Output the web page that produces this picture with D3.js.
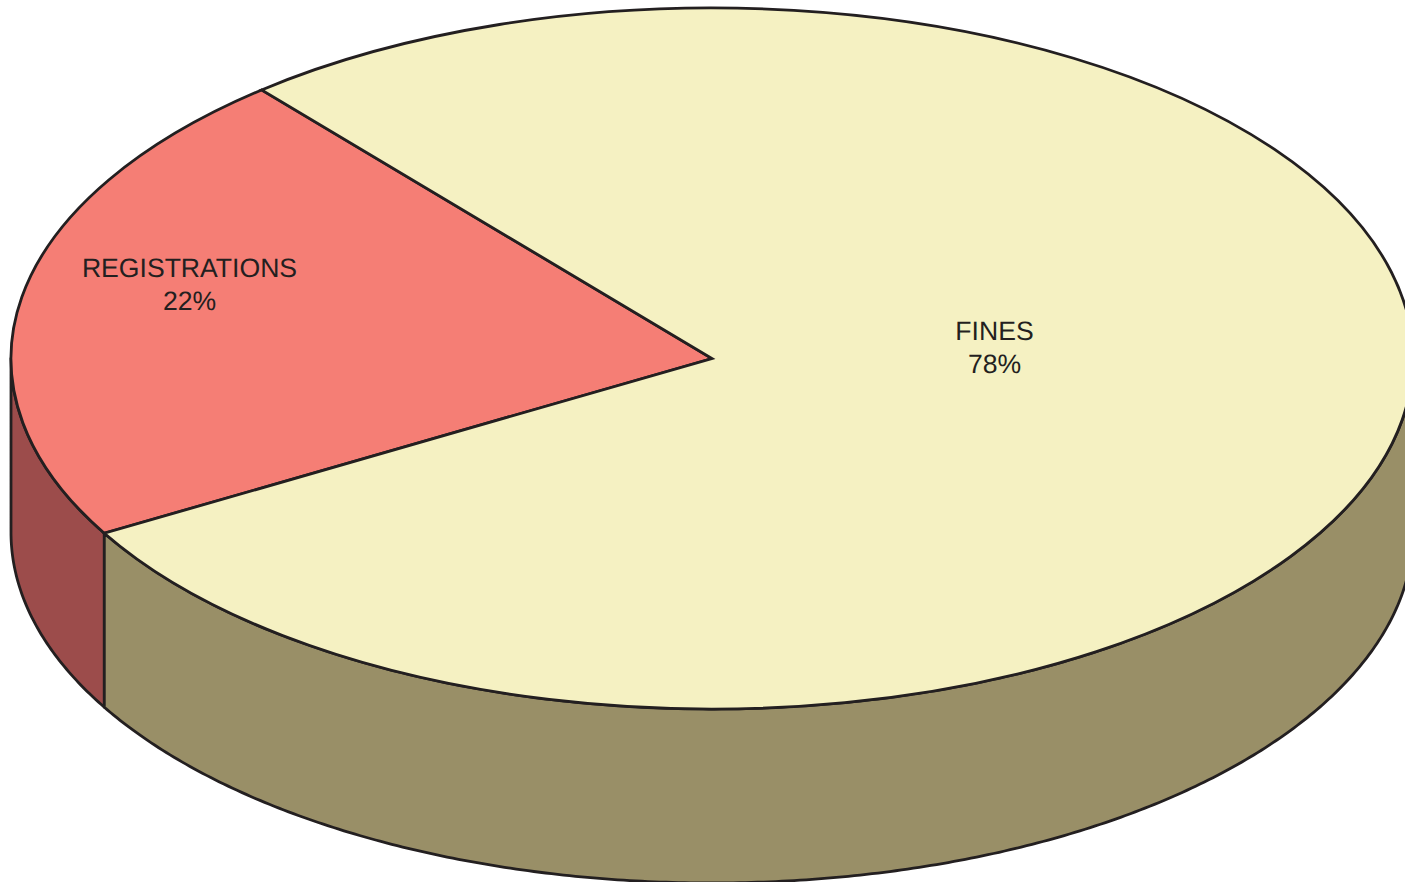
<!DOCTYPE html>
<html><head><meta charset="utf-8">
<script src="https://cdn.jsdelivr.net/npm/d3@7"></script>
<style>html,body{margin:0;padding:0;background:#fff;overflow:hidden}svg{display:block}</style>
</head><body><svg id="c" width="1405" height="882"></svg>
<script>
const categories = ["REGISTRATIONS", "FINES"];
const values = [22.2, 77.8];
const percentLabels = ["22%", "78%"];
const topColors = ["#f57e75", "#f5f1c2"];
const sideColors = ["#9c4c4b", "#998f67"];

const W = 1405, H = 882, cx = 712, cy = 358.5, rx = 701, ry = 350.5, depth = 174;
const ink = "#231f20", sw = 2.8, deg = Math.PI / 180;
const svg = d3.select("#c");

const pie = d3.pie().value(d => d.v).sort(null).startAngle(240.1 * deg).endAngle((240.1 + 360) * deg);
const arcs = pie(categories.map((c, i) => ({c, v: values[i], i})));

const ex = d3.scaleLinear().domain([-1, 1]).range([cx - rx, cx + rx]);
const ey = d3.scaleLinear().domain([-1, 1]).range([cy - ry, cy + ry]);
const px = a => ex(Math.sin(a));
const py = a => ey(-Math.cos(a));

// Front-facing wall of each slice (clock angle between 90deg and 270deg, modulo a turn)
function visible(a0, a1) {
  const spans = [];
  for (let k = -1; k <= 1; k++) {
    const lo = Math.max(a0, (90 + 360 * k) * deg), hi = Math.min(a1, (270 + 360 * k) * deg);
    if (hi > lo) spans.push([lo, hi]);
  }
  return spans;
}
const wall = d3.area().x(a => px(a)).y0(a => py(a)).y1(a => py(a) + depth);
const sidesG = svg.append("g");
arcs.forEach(d => {
  visible(d.startAngle, d.endAngle).forEach(([lo, hi]) => {
    const n = Math.max(8, Math.ceil((hi - lo) / deg * 2));
    const pts = d3.range(n + 1).map(k => lo + (hi - lo) * k / n);
    sidesG.append("path").attr("d", wall(pts))
      .attr("fill", sideColors[d.data.i]).attr("stroke", ink)
      .attr("stroke-width", sw).attr("stroke-linejoin", "round");
  });
});

// Top face: d3.arc on a fixed radius, squashed into the ellipse
const R = 100;
const arcGen = d3.arc().innerRadius(0).outerRadius(R);
const topG = svg.append("g").attr("transform", `translate(${cx},${cy}) scale(${rx / R},${ry / R})`);
topG.selectAll("path").data(arcs).join("path")
  .attr("d", arcGen)
  .attr("fill", d => topColors[d.data.i])
  .attr("stroke", ink).attr("stroke-width", sw)
  .attr("stroke-linejoin", "miter")
  .attr("vector-effect", "non-scaling-stroke");

// Labels
const labelPos = i => i === 0 ? [189.5, 277] : [994.5, 340];
const lineGap = 33;
const labels = svg.append("g").attr("font-family", "'Liberation Sans', Arial, sans-serif")
  .attr("font-size", 26.6).attr("fill", ink).attr("text-anchor", "middle")
  .attr("text-rendering", "geometricPrecision");
categories.forEach((c, i) => {
  const [x, y] = labelPos(i);
  labels.append("text").attr("x", x).attr("y", y).text(c);
  labels.append("text").attr("x", x).attr("y", y + lineGap).text(percentLabels[i]);
});
</script></body></html>
